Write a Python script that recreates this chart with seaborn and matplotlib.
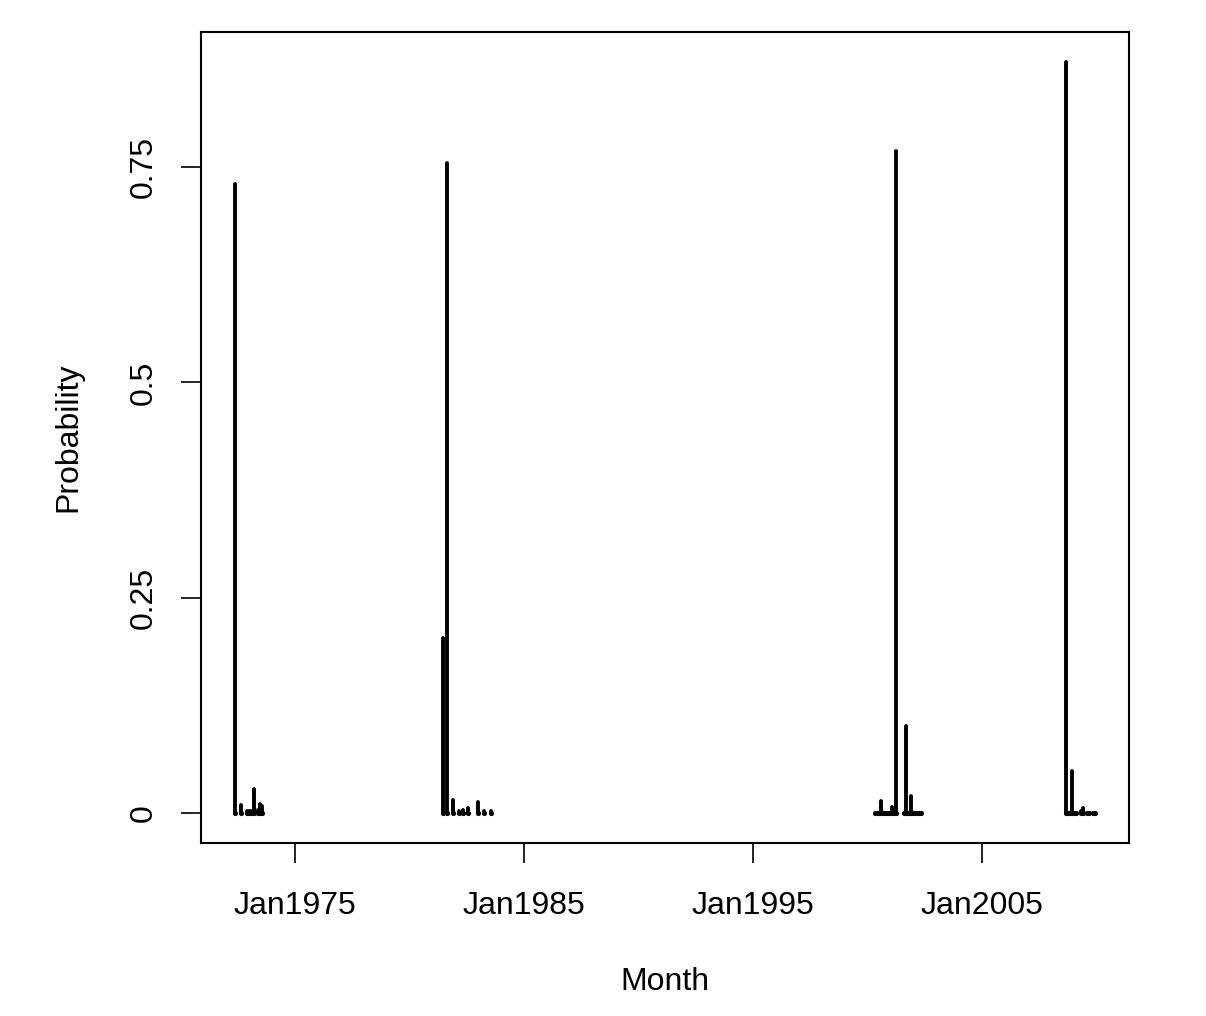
import numpy as np
import pandas as pd
import matplotlib
matplotlib.use("Agg")
import matplotlib.pyplot as plt
import matplotlib.dates as mdates
import seaborn as sns

# ---- data (monthly posterior probabilities) ----
months = [
    "1972-06", "1972-09", "1972-12", "1973-01", "1973-02", "1973-04", "1973-06", "1973-07", "1973-08",
    "1981-07", "1981-09", "1981-12", "1982-03", "1982-05", "1982-08", "1983-01", "1983-04", "1983-08",
    "2000-05", "2000-06", "2000-07", "2000-08", "2000-09", "2000-10", "2000-11", "2000-12",
    "2001-01", "2001-02", "2001-03", "2001-04",
    "2001-08", "2001-09", "2001-10", "2001-11", "2001-12",
    "2002-01", "2002-02", "2002-03", "2002-04", "2002-05",
    "2008-09", "2008-10", "2008-11", "2008-12", "2009-01", "2009-02",
    "2009-05", "2009-06", "2009-08", "2009-09", "2009-11", "2009-12",
]
probability = [
    0.730, 0.009, 0.002, 0.002, 0.002, 0.028, 0.004, 0.010, 0.008,
    0.203, 0.755, 0.015, 0.002, 0.004, 0.006, 0.013, 0.002, 0.002,
    0.0, 0.0, 0.0, 0.014, 0.0, 0.0, 0.0, 0.0,
    0.0, 0.007, 0.0, 0.769,
    0.0, 0.101, 0.0, 0.0, 0.020,
    0.0, 0.0, 0.0, 0.0, 0.0,
    0.872, 0.0, 0.0, 0.049, 0.0, 0.0,
    0.002, 0.006, 0.0, 0.0, 0.0, 0.0,
]
x_ticks = ["1975-01", "1985-01", "1995-01", "2005-01"]
y_ticks = [0, 0.25, 0.5, 0.75]
y_ticklabels = ["0", "0.25", "0.5", "0.75"]

df = pd.DataFrame({"Month": pd.to_datetime(months), "Probability": probability})

sns.set_style("ticks")
plt.rcParams["font.family"] = ["Liberation Sans", "DejaVu Sans"]
plt.rcParams["text.color"] = "black"
plt.rcParams["axes.labelcolor"] = "black"

fig = plt.figure(figsize=(12.06, 10.16), dpi=100)
ax = fig.add_axes([201 / 1206, 1 - 843 / 1016, 928 / 1206, 811 / 1016])

ax.vlines(df["Month"], 0, df["Probability"], color="black", linewidth=2.8,
          capstyle="round")
sns.scatterplot(data=df, x="Month", y=np.zeros(len(df)), ax=ax, color="black",
                s=14, marker="o", linewidth=0, legend=False)

# R-style 4% padding
xmin = mdates.date2num(df["Month"].min())
xmax = mdates.date2num(df["Month"].max())
pad = 0.04 * (xmax - xmin)
ax.set_xlim(xmin - pad, xmax + pad)
ymax = max(probability)
ax.set_ylim(-0.04 * ymax, ymax * 1.04)

ax.set_xticks(pd.to_datetime(x_ticks))
ax.xaxis.set_major_formatter(mdates.DateFormatter("%b%Y"))
ax.set_yticks(y_ticks)
ax.set_yticklabels(y_ticklabels, rotation=90, va="center")

ax.tick_params(axis="both", which="major", direction="out", length=14.4, width=1.2,
               color="black", labelsize=23, labelcolor="black",
               bottom=True, left=True, top=False, right=False)
ax.tick_params(axis="x", pad=20)
ax.tick_params(axis="y", pad=16)

for sp in ax.spines.values():
    sp.set_visible(True)
    sp.set_color("black")
    sp.set_linewidth(1.5)

ax.set_xlabel("Month", fontsize=23, va="center", color="black")
ax.set_ylabel("Probability", fontsize=23, va="center", color="black")
ax.xaxis.set_label_coords(0.5, -0.172)
ax.yaxis.set_label_coords(-0.143, 0.5)

fig.savefig("out.png", dpi=100, facecolor="white")
